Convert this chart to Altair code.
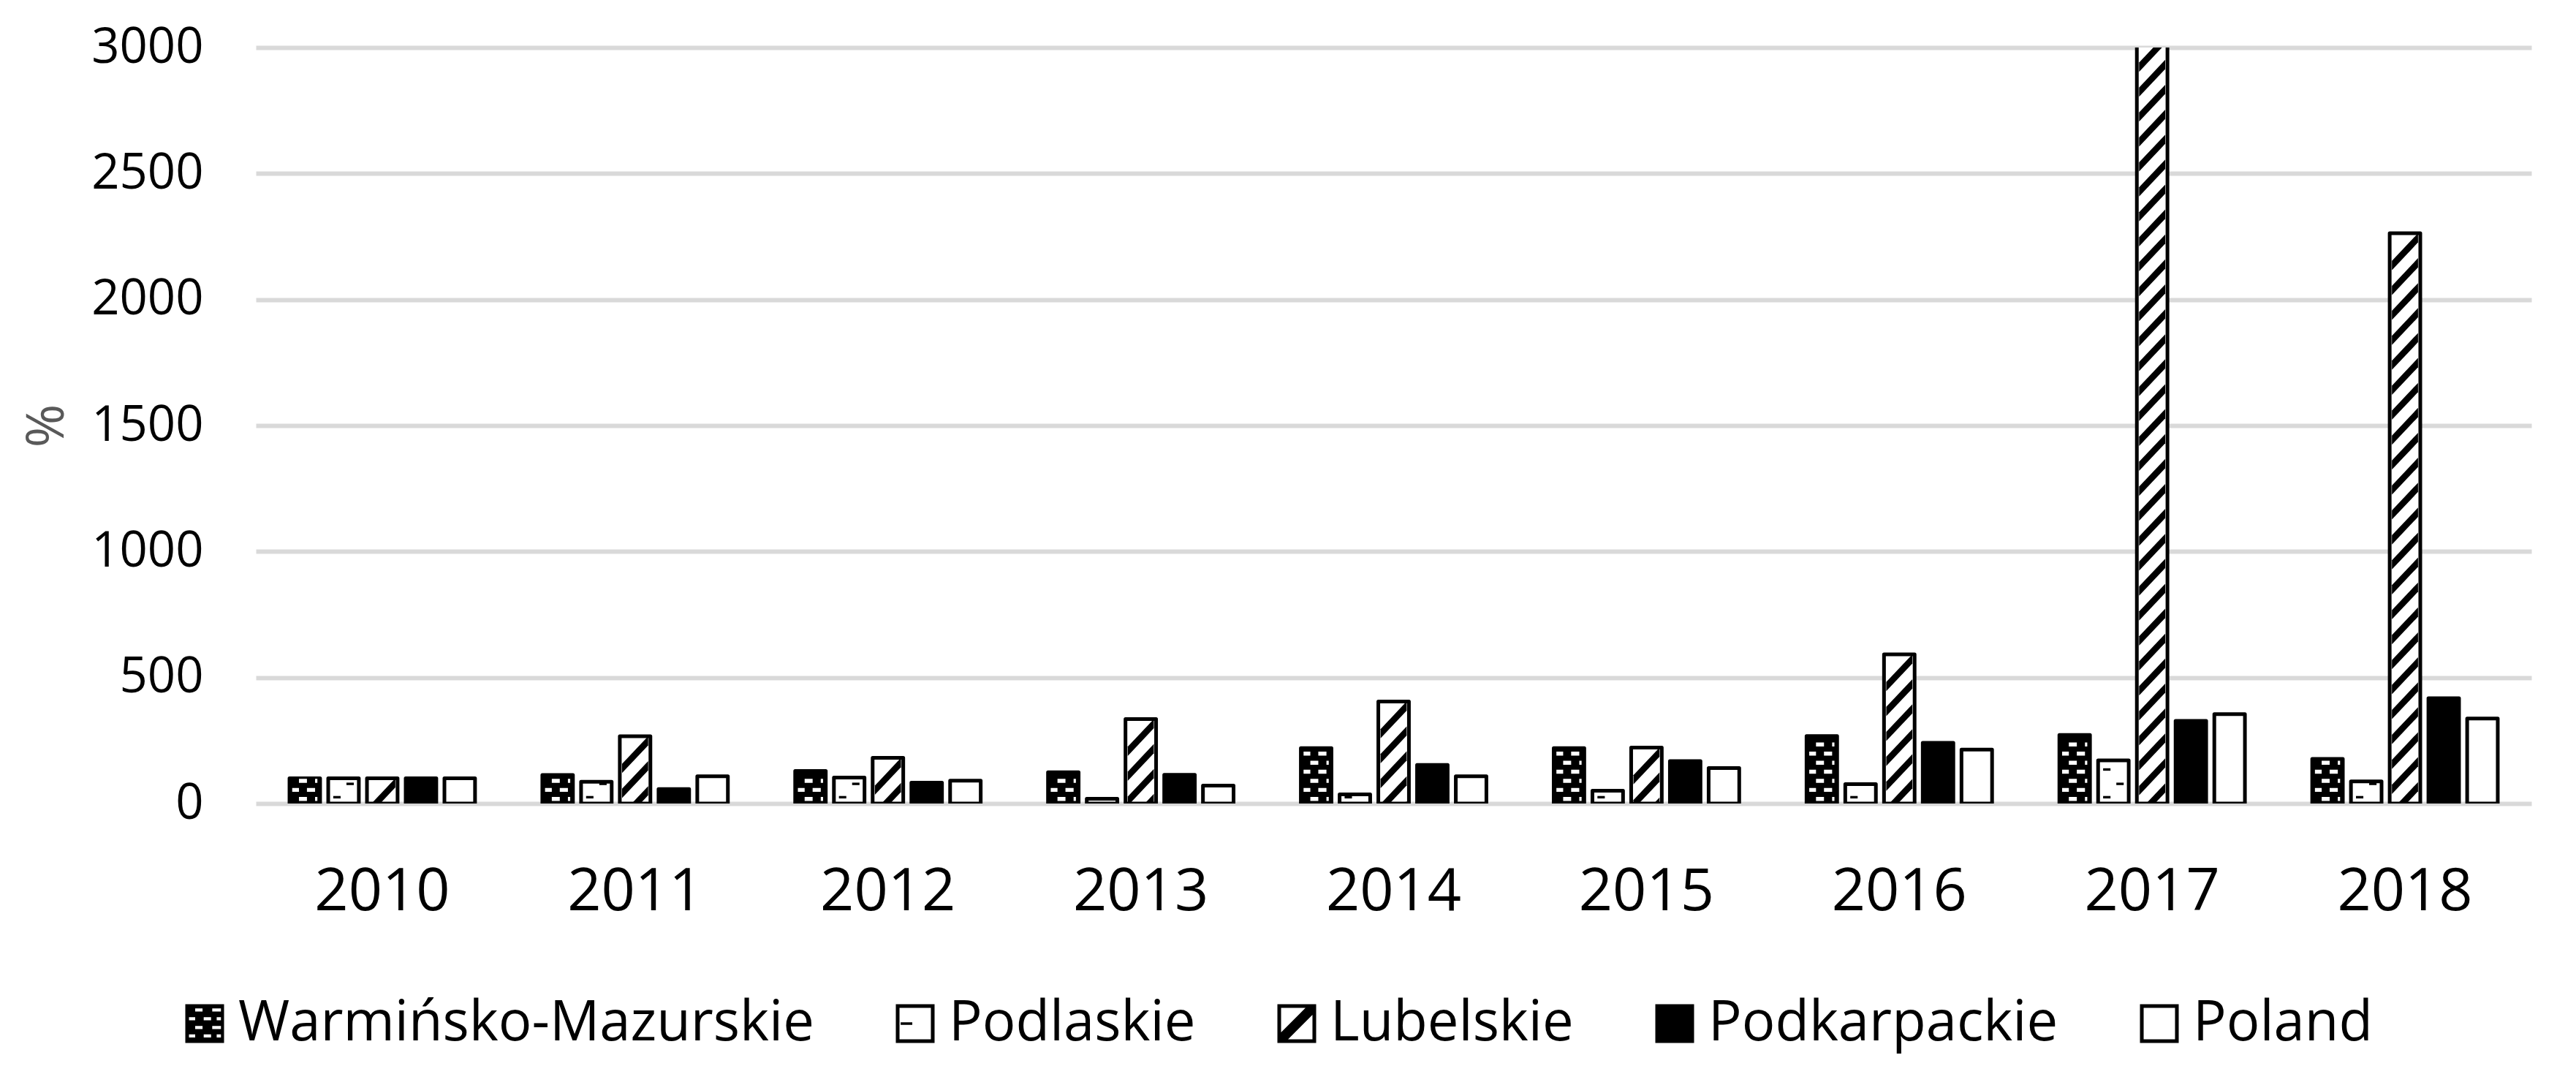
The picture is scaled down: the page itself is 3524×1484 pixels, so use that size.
import altair as alt
import pandas as pd

# ---------------- data ----------------
years = ["2010", "2011", "2012", "2013", "2014", "2015", "2016", "2017", "2018"]
regions = ["Warmińsko-Mazurskie", "Podlaskie", "Lubelskie", "Podkarpackie", "Poland"]

warm = [100, 113, 129, 124, 220, 220, 268, 272, 177]
podl = [100, 86, 103, 19, 36, 51, 77, 171, 88]
lub = [100, 267, 181, 335, 405, 222, 592, 3050, 2263]   # 2017 runs off the 3000 axis
podk = [100, 57, 83, 114, 153, 168, 241, 328, 418]
pol = [100, 108, 91, 71, 108, 141, 214, 355, 337]

y_ticks = [0, 500, 1000, 1500, 2000, 2500, 3000]

series = dict(zip(regions, [warm, podl, lub, podk, pol]))
df = pd.DataFrame(
    [{"year": y, "region": r, "value": v}
     for r, vals in series.items() for y, v in zip(years, vals)]
)

# ---------------- styling ----------------
FONT = "Open Sans"
fills = ["black", "white", "white", "black", "white"]

# bar interior pattern shapes (unit = 21 px, size 1764)
PAT_SIZE = 1764
WARM_A = "M-0.38,-0.13H0.14V0.13H-0.38Z M0.67,-0.13H0.82V0.13H0.67Z"
WARM_B = "M-0.82,-0.13H-0.38V0.13H-0.82Z M0.14,-0.13H0.67V0.13H0.14Z"
PODL_R = "M0.19,-0.08H0.67V0.08H0.19Z"
PODL_L = "M-0.67,-0.08H-0.19V0.08H-0.67Z"
LUB_S = "M-0.85,0.60L0.85,-1.20L0.85,-0.60L-0.85,1.20Z"


def hole(x1, y1, x2, y2):
    return f"M{x1},{y1}V{y2}H{x2}V{y1}Z"


OUTER = "M-1,-1H1V1H-1Z"
FRAME = OUTER + " " + hole(-0.81, -0.81, 0.81, 0.81)
leg_warm = " ".join(
    [OUTER,
     hole(-0.49, -0.78, -0.11, -0.62), hole(0.39, -0.78, 0.84, -0.62),
     hole(-0.81, -0.33, -0.49, -0.17), hole(-0.05, -0.33, 0.33, -0.17), hole(0.62, -0.33, 0.84, -0.17),
     hole(-0.49, 0.12, -0.11, 0.28), hole(0.39, 0.12, 0.84, 0.28),
     hole(-0.81, 0.56, -0.49, 0.72), hole(-0.05, 0.56, 0.33, 0.72), hole(0.62, 0.56, 0.84, 0.72)]
)
leg_podl = FRAME + " M-0.75,-0.07H-0.15V0.07H-0.75Z"
leg_lub = FRAME + " M-0.81,0.45L0.45,-0.81L0.81,-0.81L0.81,-0.45L-0.45,0.81L-0.81,0.81Z"
leg_podk = OUTER
leg_pol = FRAME
legend_paths = [leg_warm, leg_podl, leg_lub, leg_podk, leg_pol]

x_scale = alt.Scale(domain=years, paddingInner=0.234, paddingOuter=0.117)
xo_scale = alt.Scale(domain=regions, paddingInner=0.21, paddingOuter=0.105)
y_scale = alt.Scale(domain=[0, 3000], nice=False, zero=True)

base = alt.Chart(df)

x_axis = alt.Axis(
    title=None, labelFontSize=81, labelPadding=81, ticks=False, domain=False,
    grid=False, labelColor="black", labelFont=FONT, labelAngle=0, labelLimit=1000,
)
y_axis = alt.Axis(
    title="%", values=y_ticks, format="d", labelFontSize=67, labelPadding=72,
    ticks=False, domain=False, grid=True, gridColor="#d9d9d9", gridWidth=6,
    labelColor="black", labelFont=FONT, labelLimit=1000,
    titleFont=FONT, titleFontSize=72, titleFontWeight="normal", titleColor="#595959",
    titleX=-286, titleY=517, titleAlign="center", titleBaseline="middle", titleAngle=270,
)

X = alt.X("year:N", sort=years, scale=x_scale, axis=x_axis)
XO = alt.XOffset("region:N", sort=regions, scale=xo_scale)

bars = base.transform_calculate(fillkey="datum.region").mark_bar(
    stroke="black", strokeWidth=5, strokeJoin="round", clip=True
).encode(
    x=X, xOffset=XO,
    y=alt.Y("value:Q", scale=y_scale, axis=y_axis),
    fill=alt.Fill("fillkey:N", sort=regions, scale=alt.Scale(range=fills), legend=None),
)


def pattern(region, expr, shape, color, use_k=False):
    c = base.transform_filter(alt.datum.region == region)
    if use_k:
        c = c.transform_calculate(k=expr).transform_flatten(["k"]).transform_calculate(
            pos="datum.value - 73 - 99 * datum.k")
    else:
        c = c.transform_calculate(pos=expr).transform_flatten(["pos"])
    return c.mark_point(
        shape=shape, size=PAT_SIZE, filled=True, color=color, opacity=1,
        strokeWidth=0, clip=True,
    ).encode(
        x=X, xOffset=XO,
        y=alt.Y("pos:Q", scale=y_scale, axis=y_axis),
    )


warm_a = pattern(regions[0], "sequence(18, datum.value - 8, 72)", WARM_A, "white")
warm_b = pattern(regions[0], "sequence(54, datum.value - 8, 72)", WARM_B, "white")
podl_r = pattern(regions[1], "sequence(78, datum.value - 6, 110)", PODL_R, "black")
podl_l = pattern(regions[1], "sequence(25, datum.value - 6, 110)", PODL_L, "black")
lub_s = pattern(regions[2], "sequence(0, floor((datum.value - 1) / 99) + 1)", LUB_S, "black", use_k=True)

legend_layer = base.mark_point(filled=True, color="black", opacity=0, size=10).encode(
    x=X, xOffset=XO,
    y=alt.Y("value:Q", scale=y_scale, axis=y_axis),
    shape=alt.Shape(
        "region:N", sort=regions,
        scale=alt.Scale(domain=regions, range=legend_paths),
        legend=alt.Legend(
            title=None, orient="none", direction="horizontal",
            legendX=-108, legendY=1297, padding=0,
            labelFont=FONT, labelFontSize=76, labelColor="black", labelLimit=2000,
            labelOffset=8, columnPadding=100,
            symbolSize=2809, symbolFillColor="black", symbolStrokeWidth=0,
            symbolOpacity=1, symbolStrokeColor="black",
        ),
    ),
)

chart = alt.layer(bars, warm_a, warm_b, podl_r, podl_l, lub_s, legend_layer).properties(
    width=3113, height=1034,
    autosize=alt.AutoSizeParams(type="none"),
    padding={"left": 342, "top": 57, "right": 53, "bottom": 377},
    background="white",
).configure(font=FONT).configure_view(strokeWidth=0)

chart.save("out.html", embed_options={"renderer": "svg", "actions": False})
